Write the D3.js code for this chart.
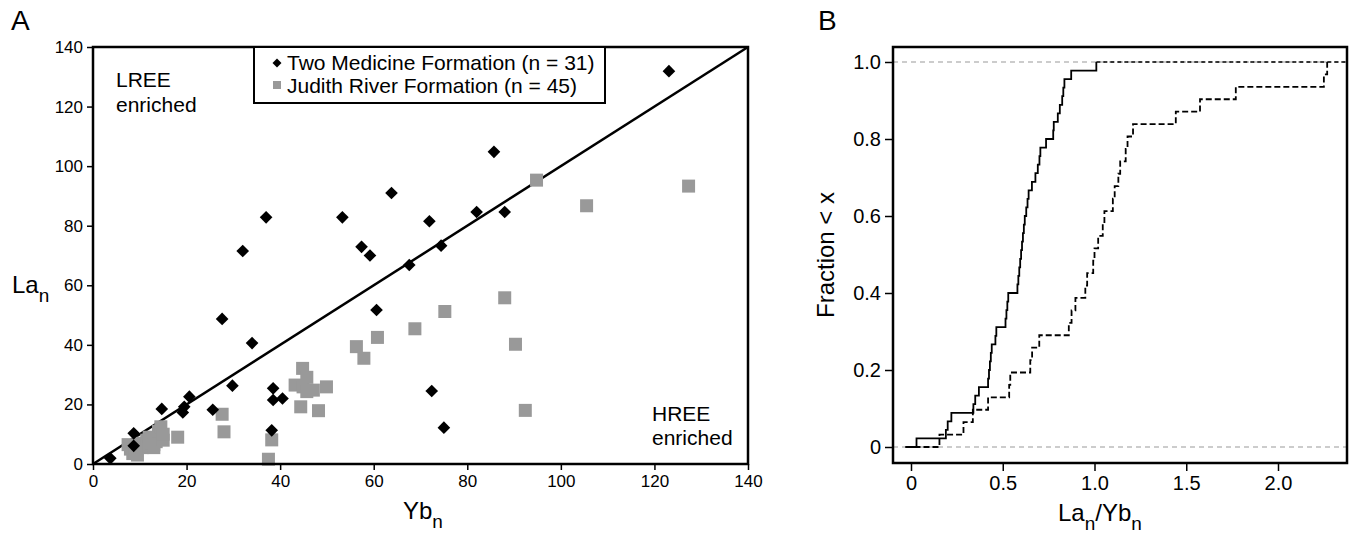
<!DOCTYPE html>
<html>
<head>
<meta charset="utf-8">
<script src="https://cdn.jsdelivr.net/npm/d3@7"></script>
<style>
  body { margin: 0; background: #fff; }
  svg text { font-family: "Liberation Sans", Arial, sans-serif; fill: #000; }
</style>
</head>
<body>
<svg id="chart" width="1351" height="536"></svg>
<script>
// Panel A - Two Medicine Formation (diamonds)
var tmYb = [3.7, 8.7, 8.7, 14.7, 19.2, 19.5, 20.6, 25.6, 27.6, 29.8, 32.0, 34.0, 37.0, 38.5, 38.5, 40.5,
            38.2, 53.3, 57.4, 59.2, 60.6, 63.8, 67.6, 71.9, 72.4, 74.4, 75.0, 82.0, 85.7, 88.0, 123.1];
var tmLa = [1.9, 6.1, 10.3, 18.5, 17.3, 19.2, 22.6, 18.2, 48.7, 26.3, 71.5, 40.6, 82.8, 25.4, 21.5, 22.0,
            11.3, 82.8, 72.9, 70.0, 51.7, 91.0, 66.8, 81.5, 24.5, 73.3, 12.2, 84.6, 104.8, 84.6, 131.9];

// Panel A - Judith River Formation (squares)
var jrYb = [7.5, 8, 8.5, 9.5, 9, 10, 10.5, 11, 11.5, 12, 12.5, 12, 13, 13, 13.5, 14, 14, 14.5, 15, 15,
            18.1, 27.6, 28.0, 38.2, 37.5, 44.8, 45.7, 43.2, 44.9, 47.1, 45.7, 49.9, 44.4, 48.2,
            56.3, 57.9, 60.8, 68.8, 75.2, 88.0, 90.3, 92.4, 94.8, 105.5, 127.3];
var jrLa = [6.5, 5, 3.5, 3, 4, 7, 5.5, 6.5, 8, 6, 7, 9, 5.5, 6.5, 7.5, 9, 11, 12.5, 8, 10,
            9.0, 16.7, 10.8, 8.1, 1.6, 32.1, 29.1, 26.5, 25.9, 24.8, 24.3, 25.9, 19.2, 17.9,
            39.4, 35.5, 42.5, 45.4, 51.2, 55.8, 40.2, 18.0, 95.3, 86.7, 93.3];

// Panel B - La/Yb ratios
var jrRatio = [0.03, 0.19, 0.20, 0.22, 0.34, 0.35, 0.37, 0.42, 0.425, 0.43, 0.435, 0.44, 0.46, 0.465,
               0.515, 0.52, 0.525, 0.53, 0.58, 0.585, 0.59, 0.595, 0.60, 0.605, 0.61, 0.615, 0.62,
               0.628, 0.635, 0.641, 0.659, 0.678, 0.691, 0.70, 0.705, 0.736, 0.775, 0.778, 0.80,
               0.811, 0.824, 0.83, 0.836, 0.873, 1.01];
var tmRatio = [0.155, 0.286, 0.337, 0.42, 0.535, 0.541, 0.65, 0.66, 0.699, 0.86, 0.875, 0.896, 0.95,
               0.96, 0.993, 1.00, 1.02, 1.045, 1.054, 1.10, 1.11, 1.13, 1.14, 1.17, 1.18, 1.21,
               1.443, 1.575, 1.77, 2.25, 2.268];

var ticksA = [0, 20, 40, 60, 80, 100, 120, 140];
var ticksBx = [0, 0.5, 1.0, 1.5, 2.0];
var ticksBy = [0, 0.2, 0.4, 0.6, 0.8, 1.0];
var legendLabels = ["Two Medicine Formation (n = 31)", "Judith River Formation (n = 45)"];

var svg = d3.select("#chart");
var sqColor = "#999999";

// ---------------- panel A ----------------
var xA = d3.scaleLinear().domain([0, 140]).range([93, 748]);
var yA = d3.scaleLinear().domain([0, 140]).range([464, 47]);

var gA = svg.append("g");

gA.append("g")
  .attr("transform", "translate(0," + yA(0) + ")")
  .call(d3.axisBottom(xA).tickValues(ticksA).tickSize(6).tickPadding(5).tickFormat(d3.format("d")))
  .call(g => g.select(".domain").remove())
  .call(g => g.selectAll("text").style("font-size", "17px"))
  .call(g => g.selectAll("line").attr("stroke-width", 1.5));

gA.append("g")
  .attr("transform", "translate(" + xA(0) + ",0)")
  .call(d3.axisLeft(yA).tickValues(ticksA).tickSize(6).tickPadding(4).tickFormat(d3.format("d")))
  .call(g => g.select(".domain").remove())
  .call(g => g.selectAll("text").style("font-size", "17px"))
  .call(g => g.selectAll("line").attr("stroke-width", 1.5));

// 1:1 line
gA.append("line")
  .attr("x1", xA(0)).attr("y1", yA(0))
  .attr("x2", xA(140)).attr("y2", yA(140))
  .attr("stroke", "#000").attr("stroke-width", 2.5);

var jrData = jrYb.map((d, i) => ({x: d, y: jrLa[i]}));
var tmData = tmYb.map((d, i) => ({x: d, y: tmLa[i]}));

gA.selectAll("rect.jr")
  .data(jrData)
  .enter()
  .append("rect")
  .attr("class", "jr")
  .attr("x", d => xA(d.x) - 6.5)
  .attr("y", d => yA(d.y) - 6.5)
  .attr("width", 13)
  .attr("height", 13)
  .attr("fill", sqColor);

var diamond = d3.symbol().type(d3.symbolSquare).size(80);

gA.selectAll("path.tm")
  .data(tmData)
  .enter()
  .append("path")
  .attr("class", "tm")
  .attr("d", diamond)
  .attr("transform", d => "translate(" + xA(d.x) + "," + yA(d.y) + ") rotate(45)")
  .attr("fill", "#000");

// frame
gA.append("rect")
  .attr("x", xA(0)).attr("y", yA(140))
  .attr("width", xA(140) - xA(0)).attr("height", yA(0) - yA(140))
  .attr("fill", "none").attr("stroke", "#000").attr("stroke-width", 2.5);

// legend
var leg = gA.append("g");
leg.append("rect")
  .attr("x", 254).attr("y", yA(140))
  .attr("width", 351).attr("height", 56)
  .attr("fill", "#fff").attr("stroke", "#000").attr("stroke-width", 2);
leg.append("path")
  .attr("d", d3.symbol().type(d3.symbolSquare).size(40))
  .attr("transform", "translate(277,63) rotate(45)");
leg.append("rect")
  .attr("x", 273).attr("y", 81).attr("width", 8).attr("height", 8)
  .attr("fill", sqColor);
leg.selectAll("text")
  .data(legendLabels)
  .enter()
  .append("text")
  .attr("x", 287)
  .attr("y", (d, i) => 70 + i * 23)
  .style("font-size", "21px")
  .text(d => d);

gA.append("text").attr("x", 116).attr("y", 87).style("font-size", "21px").text("LREE");
gA.append("text").attr("x", 116).attr("y", 112).style("font-size", "21px").text("enriched");
gA.append("text").attr("x", 652).attr("y", 421).style("font-size", "21px").text("HREE");
gA.append("text").attr("x", 652).attr("y", 445).style("font-size", "21px").text("enriched");

// axis titles A
var yt = gA.append("text").attr("x", 12).attr("y", 293).style("font-size", "24px");
yt.append("tspan").text("La");
yt.append("tspan").attr("dy", 9).style("font-size", "19px").text("n");

var xt = gA.append("text").attr("x", 403).attr("y", 519).style("font-size", "24px");
xt.append("tspan").text("Yb");
xt.append("tspan").attr("dy", 9).style("font-size", "19px").text("n");

svg.append("text").attr("x", 11).attr("y", 30).style("font-size", "28px").text("A");
svg.append("text").attr("x", 818).attr("y", 30).style("font-size", "28px").text("B");

// ---------------- panel B ----------------
var xB = d3.scaleLinear().domain([0, 2]).range([911, 1278]);
var yB = d3.scaleLinear().domain([0, 1]).range([447, 62]);
var xBmin = xB.invert(893), xBmax = xB.invert(1347);
var yBmin = yB.invert(463), yBmax = yB.invert(47);

var gB = svg.append("g");

gB.append("g")
  .attr("transform", "translate(0," + yB(yBmin) + ")")
  .call(d3.axisBottom(xB).tickValues(ticksBx).tickSize(8).tickPadding(5)
        .tickFormat(d => d === 0 ? "0" : d3.format(".1f")(d)))
  .call(g => g.select(".domain").remove())
  .call(g => g.selectAll("text").style("font-size", "20px"))
  .call(g => g.selectAll("line").attr("stroke-width", 1.5));

gB.append("g")
  .attr("transform", "translate(" + xB(xBmin) + ",0)")
  .call(d3.axisLeft(yB).tickValues(ticksBy).tickSize(8).tickPadding(4)
        .tickFormat(d => d === 0 ? "0" : d3.format(".1f")(d)))
  .call(g => g.select(".domain").remove())
  .call(g => g.selectAll("text").style("font-size", "20px"))
  .call(g => g.selectAll("line").attr("stroke-width", 1.5));

// reference lines at 0 and 1
gB.selectAll("line.ref")
  .data([0, 1])
  .enter()
  .append("line")
  .attr("class", "ref")
  .attr("x1", xB(xBmin)).attr("x2", xB(xBmax))
  .attr("y1", d => yB(d)).attr("y2", d => yB(d))
  .attr("stroke", "#9a9a9a").attr("stroke-width", 1.2)
  .attr("stroke-dasharray", "5,4");

var ecdfLine = d3.line()
  .x(d => xB(d[0]))
  .y(d => yB(d[1]))
  .curve(d3.curveStepAfter);

function ecdf(vals, x0) {
  var s = vals.slice().sort(d3.ascending);
  var pts = [[x0, 0]];
  s.forEach((v, i) => pts.push([v, (i + 1) / s.length]));
  return pts;
}

var jrPts = ecdf(jrRatio, -0.03);
var tmPts = ecdf(tmRatio, -0.03);

gB.append("path")
  .attr("d", ecdfLine(jrPts))
  .attr("fill", "none").attr("stroke", "#000").attr("stroke-width", 1.8);

// tail of the solid curve past its last step
gB.append("line")
  .attr("x1", xB(d3.max(jrRatio))).attr("x2", xB(xBmax))
  .attr("y1", yB(1)).attr("y2", yB(1))
  .attr("stroke", "#000").attr("stroke-width", 1.3)
  .attr("stroke-dasharray", "4,3");

gB.append("path")
  .attr("d", ecdfLine(tmPts))
  .attr("fill", "none").attr("stroke", "#000").attr("stroke-width", 1.8)
  .attr("stroke-dasharray", "6,3");

gB.append("rect")
  .attr("x", xB(xBmin)).attr("y", yB(yBmax))
  .attr("width", xB(xBmax) - xB(xBmin)).attr("height", yB(yBmin) - yB(yBmax))
  .attr("fill", "none").attr("stroke", "#000").attr("stroke-width", 2.5);

// axis titles B
gB.append("text")
  .attr("transform", "translate(834,255) rotate(-90)")
  .attr("text-anchor", "middle")
  .style("font-size", "24px")
  .text("Fraction < x");

var bt = gB.append("text").attr("x", 1058).attr("y", 521).style("font-size", "24px");
bt.append("tspan").text("La");
bt.append("tspan").attr("dy", 9).style("font-size", "19px").text("n");
bt.append("tspan").attr("dy", -9).text("/Yb");
bt.append("tspan").attr("dy", 9).style("font-size", "19px").text("n");
</script>
</body>
</html>
